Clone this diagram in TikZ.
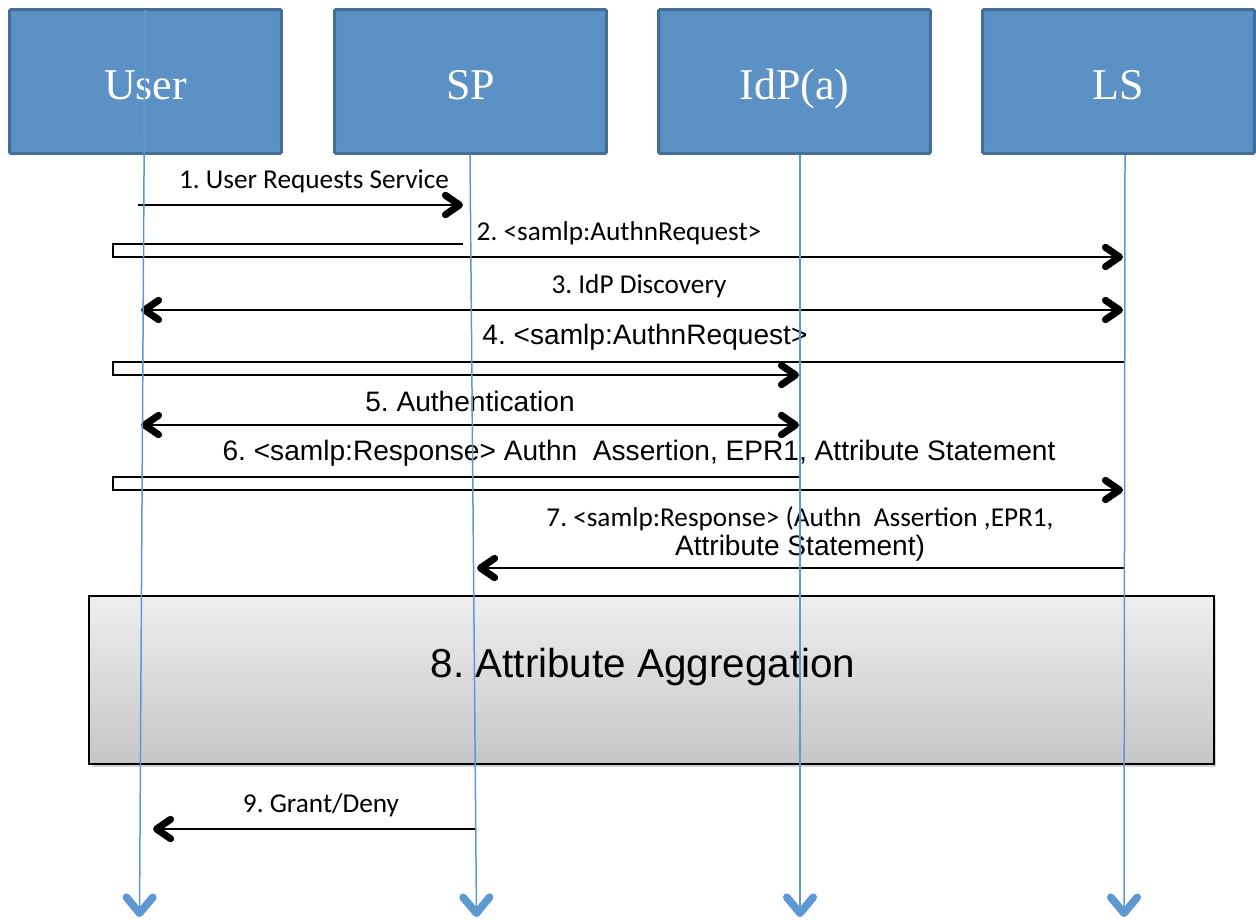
\documentclass[tikz,border=0pt]{standalone}
\usepackage{fontspec}
\setmainfont{Carlito}
\newfontfamily\arialfont{Liberation Sans}
\newfontfamily\headfont{Liberation Serif}
\usetikzlibrary{arrows.meta,shadows}
\frenchspacing

\definecolor{hdrfill}{RGB}{92,145,198}
\definecolor{hdrline}{RGB}{68,110,152}
\definecolor{lifeblue}{RGB}{94,152,210}
\definecolor{aggtop}{RGB}{238,238,238}
\definecolor{aggbot}{RGB}{198,198,198}

\tikzset{
  actor/.style={draw=hdrline, fill=hdrfill, line width=0.06cm, rounded corners=0.03cm,
    minimum width=5.44cm, minimum height=2.88cm, text=white, text height=22pt, text depth=2pt,
    font=\headfont\fontsize{25}{29}\selectfont},
  aggbox/.style={draw=black, line width=0.04cm, top color=aggtop, bottom color=aggbot,
    minimum width=22.5cm, minimum height=3.36cm,
    drop shadow={shadow xshift=0.05cm, shadow yshift=-0.06cm, opacity=0.35}},
  tip/.tip={Straight Barb[length=8pt,width=11pt,line width=4pt,round]},
  life/.style={lifeblue, line width=0.03cm, -{Straight Barb[length=9pt,width=15pt,line width=4.4pt,round]}},
  msg/.style={line width=0.035cm, -tip},
  dmsg/.style={line width=0.035cm, tip-tip},
  lbl/.style={inner sep=0pt, font=\fontsize{15.5}{18}\selectfont},
  albl/.style={inner sep=0pt, font=\arialfont\fontsize{16}{19}\selectfont}
}

\begin{document}
\begin{tikzpicture}[x=0.02cm,y=-0.02cm]
\useasboundingbox (0,0) rectangle (1256,919);

% header boxes
\node[actor] (usr) at (145.5,81.5) {User};
\node[actor] (sp)  at (470.5,81.5) {SP};
\node[actor] (idp) at (794.5,81.5) {IdP(a)};
\node[actor] (ls)  at (1118.5,81.5) {LS};

\node[aggbox] (agg) at (651.5,680) {};
\node[font=\arialfont\fontsize{23}{27}\selectfont, inner sep=0pt] (aggtxt) at (643,667) {8. Attribute Aggregation};

% lifeline ends
\coordinate (usrT) at (145,10);    \coordinate (usrB) at (139.5,917);
\coordinate (spT)  at (470,155);   \coordinate (spB)  at (476.5,917);
\coordinate (idpT) at (800,155);   \coordinate (idpB) at (800,917);
\coordinate (lsT)  at (1125,155);  \coordinate (lsB)  at (1124,917);

% message ends
\coordinate (m1a) at (138,205);  \coordinate (m1b) at (463,205);
\coordinate (m2a) at (463,244);  \coordinate (m2b) at (1123,257);
\coordinate (m3a) at (141,310);  \coordinate (m3b) at (1123,310);
\coordinate (m4a) at (1125,362); \coordinate (m4b) at (799,375);
\coordinate (m5a) at (141,425);  \coordinate (m5b) at (799,425);
\coordinate (m6a) at (800,477);  \coordinate (m6b) at (1123,490);
\coordinate (m7a) at (1125,568); \coordinate (m7b) at (477,568);
\coordinate (m9a) at (476,829);  \coordinate (m9b) at (153,829);
\coordinate (bend) at (113,0);

% messages
\draw[msg] (m1a) -- (m1b);
\draw[msg] (m2a) -- (bend |- m2a) -- (bend |- m2b) -- (m2b);
\draw[dmsg] (m3a) -- (m3b);
\draw[msg] (m4a) -- (bend |- m4a) -- (bend |- m4b) -- (m4b);
\draw[dmsg] (m5a) -- (m5b);
\draw[msg] (m6a) -- (bend |- m6a) -- (bend |- m6b) -- (m6b);
\draw[msg] (m7a) -- (m7b);
\draw[msg] (m9a) -- (m9b);

\node[lbl]  (t1) at (314,181) {1. User Requests Service};
\node[lbl]  (t2) at (619,233) {2. <samlp:AuthnRequest>};
\node[lbl]  (t3) at (639,286) {3. IdP Discovery};
\node[albl] (t4) at (645,337) {4. <samlp:AuthnRequest>};
\node[albl] (t5) at (470,401) {5. Authentication};
\node[albl] (t6) at (639,453) {6. <samlp:Response> Authn\ \ Assertion, EPR1, Attribute Statement};
\node[lbl]  (t7) at (800,519) {7. <samlp:Response> (Authn\ \ Assertion ,EPR1,};
\node[albl] (t7b) at (800,548) {Attribute Statement)};
\node[lbl]  (t9) at (321,805) {9. Grant/Deny};

% lifelines
\draw[life] (usrT) -- (usrB);
\draw[life] (spT) -- (spB);
\draw[life] (idpT) -- (idpB);
\draw[life] (lsT) -- (lsB);

\end{tikzpicture}
\end{document}
